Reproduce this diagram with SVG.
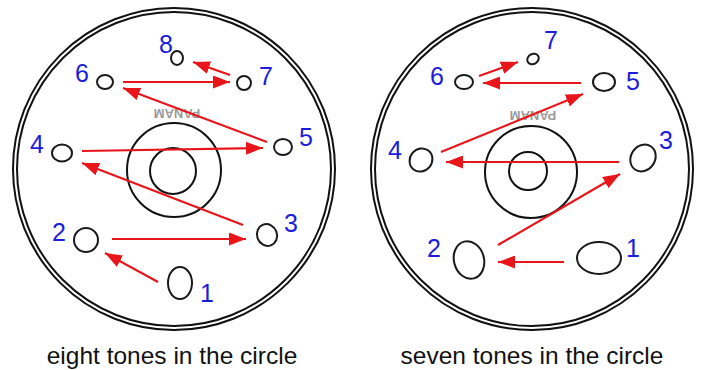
<svg xmlns="http://www.w3.org/2000/svg" width="702" height="370" viewBox="0 0 702 370">
<style>
.ring{fill:none;stroke:#111;stroke-width:2}
.hole{fill:#fff;stroke:#1a1a1a;stroke-width:2}
.num{font-family:"Liberation Sans",Arial,sans-serif;font-size:25px;fill:#1c1cdc;text-anchor:middle;dominant-baseline:central}
.cap{font-family:"Liberation Sans",Arial,sans-serif;font-size:24.5px;fill:#111;text-anchor:middle}
.brand{font-family:"Liberation Sans",Arial,sans-serif;font-size:13px;font-weight:bold;fill:#9a9a9a;text-anchor:middle;dominant-baseline:central}
.arr{stroke:#e8151b;stroke-width:2.2;fill:none;marker-end:url(#ah)}
</style>
<defs>
<marker id="ah" markerUnits="userSpaceOnUse" viewBox="0 0 17 13" refX="17" refY="6.5" markerWidth="17" markerHeight="13" orient="auto">
<path d="M0,0 L17,6.5 L0,13 z" fill="#e8151b"/>
</marker>
</defs>
<rect width="702" height="370" fill="#fff"/>
<g id="disk-left">
<circle class="ring" cx="174" cy="169" r="161"/>
<circle class="ring" cx="174" cy="169" r="157"/>
<circle class="ring" cx="174" cy="170" r="47"/>
<circle class="ring" cx="173" cy="171" r="23"/>
<text class="brand" transform="rotate(180 177 113)" x="177" y="113">PANAM</text>
</g>
<g id="disk-right">
<circle class="ring" cx="532" cy="169" r="161"/>
<circle class="ring" cx="532" cy="169" r="157"/>
<circle class="ring" cx="531" cy="172" r="46"/>
<circle class="ring" cx="528" cy="171" r="19"/>
<text class="brand" transform="rotate(180 533 115)" x="533" y="115">PANAM</text>
</g>
<g id="left-holes">
<g id="L1"><ellipse class="hole" cx="180" cy="283" rx="12" ry="16"/><text class="num" x="207" y="293">1</text></g>
<g id="L2"><ellipse class="hole" cx="86" cy="240" rx="12" ry="12"/><text class="num" x="59" y="232">2</text></g>
<g id="L3"><ellipse class="hole" cx="267" cy="235" rx="10" ry="11" transform="rotate(-20 267 235)"/><text class="num" x="291" y="223">3</text></g>
<g id="L4"><ellipse class="hole" cx="62" cy="153" rx="10" ry="8.5"/><text class="num" x="37" y="144">4</text></g>
<g id="L5"><ellipse class="hole" cx="283" cy="147" rx="9" ry="8"/><text class="num" x="306" y="137">5</text></g>
<g id="L6"><ellipse class="hole" cx="105" cy="82" rx="8" ry="7"/><text class="num" x="82" y="73">6</text></g>
<g id="L7"><ellipse class="hole" cx="244" cy="83" rx="7" ry="7"/><text class="num" x="266" y="76">7</text></g>
<g id="L8"><ellipse class="hole" cx="177" cy="58" rx="6" ry="7"/><text class="num" x="166" y="44">8</text></g>
</g>
<g id="right-holes">
<g id="R1"><ellipse class="hole" cx="599" cy="258" rx="22" ry="16"/><text class="num" x="633" y="248">1</text></g>
<g id="R2"><ellipse class="hole" cx="469" cy="260" rx="15" ry="19" transform="rotate(-15 469 260)"/><text class="num" x="434" y="248">2</text></g>
<g id="R3"><ellipse class="hole" cx="643" cy="158" rx="12" ry="14" transform="rotate(35 643 158)"/><text class="num" x="666" y="140">3</text></g>
<g id="R4"><ellipse class="hole" cx="421" cy="160" rx="11" ry="12" transform="rotate(40 421 160)"/><text class="num" x="395" y="150">4</text></g>
<g id="R5"><ellipse class="hole" cx="604" cy="82" rx="11" ry="9"/><text class="num" x="633" y="81">5</text></g>
<g id="R6"><ellipse class="hole" cx="464" cy="82" rx="9" ry="7"/><text class="num" x="437" y="76">6</text></g>
<g id="R7"><ellipse class="hole" cx="533" cy="59" rx="6" ry="5" transform="rotate(-30 533 59)"/><text class="num" x="551" y="40">7</text></g>
</g>
<g id="connectors">
<line class="arr" x1="158" y1="282" x2="105" y2="253"/>
<line class="arr" x1="112" y1="239" x2="246" y2="239"/>
<line class="arr" x1="243" y1="225" x2="82" y2="163"/>
<line class="arr" x1="82" y1="151" x2="263" y2="148"/>
<line class="arr" x1="267" y1="142" x2="123" y2="88"/>
<line class="arr" x1="123" y1="82" x2="230" y2="82"/>
<line class="arr" x1="230" y1="75" x2="193" y2="62"/>
<line class="arr" x1="564" y1="262" x2="498" y2="262"/>
<line class="arr" x1="498" y1="245" x2="620" y2="174"/>
<line class="arr" x1="619" y1="162" x2="446" y2="162"/>
<line class="arr" x1="441" y1="152" x2="583" y2="94"/>
<line class="arr" x1="581" y1="83" x2="483" y2="83"/>
<line class="arr" x1="479" y1="76" x2="518" y2="62"/>
</g>
<text class="cap" x="172" y="364">eight tones in the circle</text>
<text class="cap" x="532" y="364">seven tones in the circle</text>
</svg>
